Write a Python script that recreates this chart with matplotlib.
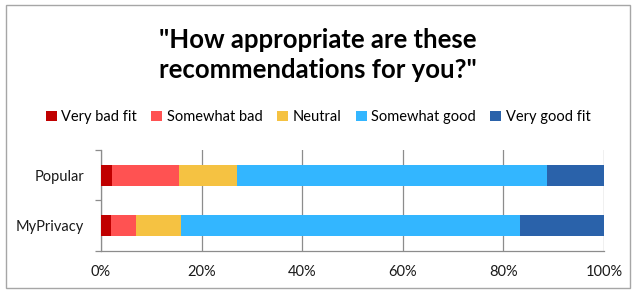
import matplotlib.pyplot as plt
import numpy as np
from matplotlib.patches import Rectangle

plt.rcParams['font.family'] = ['Lato', 'DejaVu Sans']

# data (percent of answers)
groups = ['Popular', 'MyPrivacy']
labels = ['Very bad fit', 'Somewhat bad', 'Neutral', 'Somewhat good', 'Very good fit']
popular = [2.1, 13.5, 11.5, 61.5, 11.4]
myprivacy = [2.0, 4.9, 9.0, 67.3, 16.8]
colors = ['#C00000', '#FF5252', '#F5C242', '#33B6FF', '#2A62AA']
xticks = [0, 20, 40, 60, 80, 100]

vals = np.array([popular, myprivacy])

fig = plt.figure(figsize=(6.36, 2.93), dpi=100)
ax = fig.add_axes([0.1588, 0.1433, 0.7909, 0.345])

ypos = np.arange(len(groups))
left = np.zeros(len(groups))
for i, lab in enumerate(labels):
    ax.barh(ypos, vals[:, i], left=left, height=0.42, color=colors[i],
            label=lab, zorder=3)
    left += vals[:, i]

ax.set_xlim(0, 100)
ax.set_ylim(1.5, -0.5)
ax.set_xticks(xticks)
ax.set_xticklabels([f'{t}%' for t in xticks], fontsize=10.5, color='#1a1a1a')
ax.tick_params(axis='x', length=0, pad=10)
ax.grid(axis='x', color='#8c8c8c', linewidth=0.9, zorder=0)

# y axis: tick marks between categories, labels centered
ax.set_yticks([-0.5, 0.5, 1.5])
ax.set_yticklabels([])
ax.set_yticks(ypos, minor=True)
ax.set_yticklabels(groups, minor=True, fontsize=10.5, color='#1a1a1a')
ax.tick_params(axis='y', which='major', length=4, color='#8c8c8c', width=0.9)
ax.tick_params(axis='y', which='minor', length=0, pad=12)

for s in ['top', 'right']:
    ax.spines[s].set_visible(False)
for s in ['left', 'bottom']:
    ax.spines[s].set_color('#8c8c8c')
    ax.spines[s].set_linewidth(0.9)

fig.text(0.5, 0.812, '"How appropriate are these\nrecommendations for you?"',
         ha='center', va='center', fontsize=18.5, fontweight='bold',
         linespacing=1.3)

fig.legend(loc='center', bbox_to_anchor=(0.5, 0.6), ncol=5, frameon=False,
           fontsize=10.5, handlelength=0.75, handleheight=0.75, handletextpad=0.3,
           columnspacing=1.0)

fig.patches.append(Rectangle((0.009, 0.017), 0.982, 0.966, transform=fig.transFigure,
                             fill=False, edgecolor='#a6a6a6', linewidth=1))

fig.savefig('out.png', dpi=100)
